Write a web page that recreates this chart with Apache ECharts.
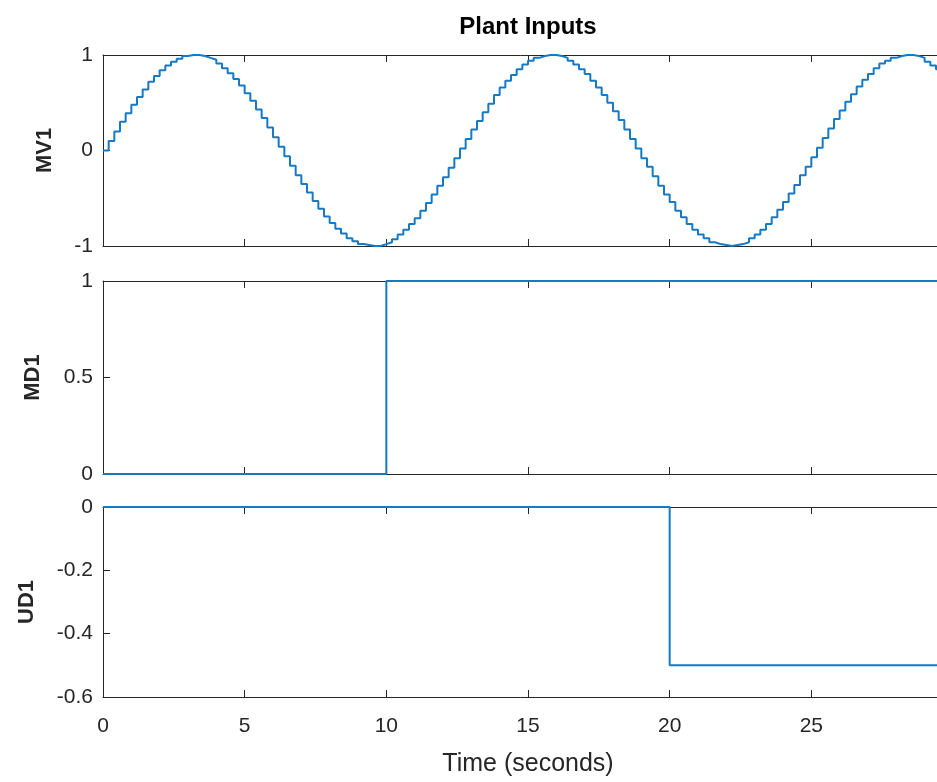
<!DOCTYPE html>
<html>
<head>
<meta charset="utf-8">
<script src="https://cdn.jsdelivr.net/npm/echarts@6/dist/echarts.min.js"></script>
<style>
  html, body { margin: 0; padding: 0; background: #fff; }
  #chart { width: 937px; height: 782px; }
</style>
</head>
<body>
<div id="chart"></div>
<script>
// sample time of the MV1 staircase (s)
var Ts = 0.2;
// MV1 samples (held for Ts each)
var mv1Values = [
    0, 0.10, 0.20, 0.30, 0.39, 0.48, 0.56, 0.64, 0.72, 0.78,
    0.84, 0.89, 0.93, 0.96, 0.99, 1.00, 1.00, 0.99, 0.97, 0.95,
    0.91, 0.86, 0.81, 0.75, 0.68, 0.60, 0.52, 0.43, 0.34, 0.24,
    0.14, 0.04, -0.06, -0.16, -0.26, -0.35, -0.44, -0.53, -0.61, -0.69,
    -0.76, -0.82, -0.87, -0.92, -0.95, -0.98, -0.99, -1.00, -1.00, -0.98,
    -0.96, -0.93, -0.88, -0.83, -0.77, -0.71, -0.63, -0.55, -0.46, -0.37,
    -0.28, -0.18, -0.08, 0.02, 0.12, 0.22, 0.31, 0.40, 0.49, 0.58,
    0.66, 0.73, 0.79, 0.85, 0.90, 0.94, 0.97, 0.99, 1.00, 1.00,
    0.99, 0.97, 0.94, 0.90, 0.85, 0.80, 0.73, 0.66, 0.58, 0.50,
    0.41, 0.32, 0.22, 0.12, 0.02, -0.08, -0.17, -0.27, -0.37, -0.46,
    -0.54, -0.63, -0.70, -0.77, -0.83, -0.88, -0.92, -0.96, -0.98, -0.99,
    -1.00, -0.99, -0.98, -0.96, -0.92, -0.88, -0.83, -0.77, -0.70, -0.62,
    -0.54, -0.45, -0.36, -0.26, -0.17, -0.07, 0.03, 0.13, 0.23, 0.33,
    0.42, 0.51, 0.59, 0.67, 0.74, 0.80, 0.86, 0.91, 0.94, 0.97,
    0.99, 1.00, 1.00, 0.99, 0.97, 0.93, 0.89, 0.85, 0.79, 0.72,
    0.65
];
// MD1 / UD1 step signals: switching times and levels
var md1Times = [0, 10, 30];
var md1Values = [0, 1, 1];
var ud1Times = [0, 20, 30];
var ud1Values = [0, -0.5, -0.5];

var xTicks = [0, 5, 10, 15, 20, 25, 30];
var panelNames = ['MV1', 'MD1', 'UD1'];
var yRanges = [[-1, 1, 1], [0, 1, 0.5], [-0.6, 0, 0.2]];
var nameGaps = [47, 59, 65];

var TEXT = '#262626';
var AXIS = '#262626';
var FONT = 'Liberation Sans';

var grids = [
    {left: 103, width: 850, top: 55, height: 191, outerBoundsMode: 'none', containLabel: false},
    {left: 103, width: 850, top: 281, height: 193, outerBoundsMode: 'none', containLabel: false},
    {left: 103, width: 850, top: 507, height: 190, outerBoundsMode: 'none', containLabel: false}
];

function pairs(xs, ys) {
    var out = [];
    for (var i = 0; i < ys.length; i++) {
        out.push([xs[i], ys[i]]);
    }
    return out;
}

var mvTimes = [];
for (var k = 0; k < mv1Values.length; k++) {
    mvTimes.push(Math.round(k * Ts * 10) / 10);
}

var xAxes = [];
var yAxes = [];
for (var i = 0; i < 3; i++) {
    var last = (i === 2);
    xAxes.push({
        type: 'value', gridIndex: i, position: 'bottom',
        min: xTicks[0], max: xTicks[xTicks.length - 1], interval: 5,
        axisLine: {show: true, onZero: false, lineStyle: {color: AXIS, width: 1}},
        axisTick: {show: true, inside: true, length: 7, lineStyle: {color: AXIS}},
        axisLabel: {show: last, color: TEXT, fontFamily: FONT, fontSize: 21, margin: 19},
        splitLine: {show: false},
        name: last ? 'Time (seconds)' : '',
        nameLocation: 'middle', nameGap: 55,
        nameTextStyle: {color: TEXT, fontFamily: FONT, fontSize: 25}
    });
    xAxes.push({
        type: 'value', gridIndex: i, position: 'top',
        min: xTicks[0], max: xTicks[xTicks.length - 1], interval: 5,
        axisLine: {show: true, onZero: false, lineStyle: {color: AXIS, width: 1}},
        axisTick: {show: true, inside: true, length: 7, lineStyle: {color: AXIS}},
        axisLabel: {show: false},
        splitLine: {show: false}
    });
    yAxes.push({
        type: 'value', gridIndex: i, position: 'left',
        min: yRanges[i][0], max: yRanges[i][1], interval: yRanges[i][2],
        axisLine: {show: true, onZero: false, lineStyle: {color: AXIS, width: 1}},
        axisTick: {show: true, inside: true, length: 7, lineStyle: {color: AXIS}},
        axisLabel: {color: TEXT, fontFamily: FONT, fontSize: 21, margin: 10},
        splitLine: {show: false},
        name: panelNames[i], nameLocation: 'middle', nameGap: nameGaps[i], nameRotate: 90,
        nameTextStyle: {color: TEXT, fontFamily: FONT, fontSize: 22, fontWeight: 'bold'}
    });
    yAxes.push({
        type: 'value', gridIndex: i, position: 'right',
        min: yRanges[i][0], max: yRanges[i][1], interval: yRanges[i][2],
        axisLine: {show: true, onZero: false, lineStyle: {color: AXIS, width: 1}},
        axisTick: {show: true, inside: true, length: 7, lineStyle: {color: AXIS}},
        axisLabel: {show: false},
        splitLine: {show: false}
    });
}

var lineStyle = {color: '#1679c4', width: 2};
var series = [
    {name: 'MV1', type: 'line', step: 'end', xAxisIndex: 0, yAxisIndex: 0,
        data: pairs(mvTimes, mv1Values), showSymbol: false, lineStyle: lineStyle, z: 3},
    {name: 'MD1', type: 'line', step: 'end', xAxisIndex: 2, yAxisIndex: 2,
        data: pairs(md1Times, md1Values), showSymbol: false, lineStyle: lineStyle, z: 3},
    {name: 'UD1', type: 'line', step: 'end', xAxisIndex: 4, yAxisIndex: 4,
        data: pairs(ud1Times, ud1Values), showSymbol: false, lineStyle: lineStyle, z: 3}
];

var myChart = echarts.init(document.getElementById('chart'), null, {renderer: 'canvas'});
var option = {
    animation: false,
    backgroundColor: '#fff',
    title: {
        text: 'Plant Inputs',
        left: 523, top: 10, textAlign: 'center',
        textStyle: {color: '#000', fontFamily: FONT, fontSize: 24, fontWeight: 'bold'}
    },
    grid: grids,
    xAxis: xAxes,
    yAxis: yAxes,
    series: series
};
myChart.setOption(option);
</script>
</body>
</html>
